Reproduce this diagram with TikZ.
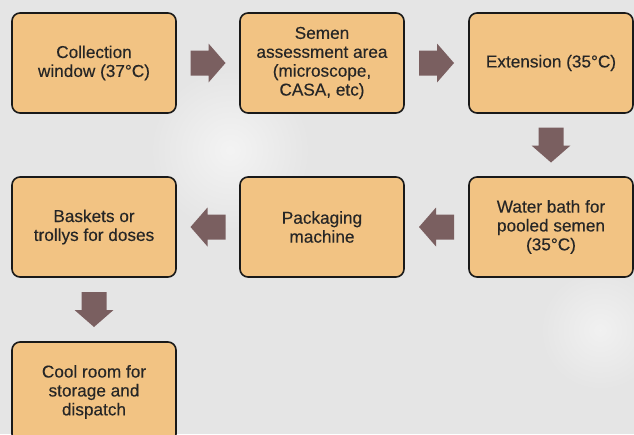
\documentclass[tikz,border=0pt]{standalone}
\usepackage{fontspec}
\setmainfont{Liberation Sans}
\newfontfamily\boxfont[FakeBold=0.3]{Liberation Sans}
\usetikzlibrary{calc}
\definecolor{bgc}{HTML}{E5E5E5}
\definecolor{boxc}{HTML}{F2C383}
\definecolor{arrc}{HTML}{7A5F60}
\definecolor{txtc}{HTML}{262626}
\tikzset{
  stage/.style={draw=black!90, line width=1.6pt, fill=boxc, rounded corners=8pt,
    minimum width=164pt, minimum height=100pt, inner sep=2pt, align=center,
    text=txtc, font=\boxfont\fontsize{17.2}{18.9}\selectfont},
  pics/blockarrow/.style={code={
    \fill[arrc] (-17.5pt,-12.5pt) -- (0.5pt,-12.5pt) -- (0.5pt,-19.5pt) -- (17.5pt,0pt)
      -- (0.5pt,19.5pt) -- (0.5pt,12.5pt) -- (-17.5pt,12.5pt) -- cycle;}}
}
\begin{document}
\begin{tikzpicture}[x=1pt,y=1pt]
\useasboundingbox (0,0) rectangle (634,-434);
\fill[bgc] (0,0) rectangle (634,-434);
\shade[inner color=white!55!bgc, outer color=bgc] (230,-150) circle (80);
\shade[inner color=white!45!bgc, outer color=bgc] (600,-330) circle (60);
\node[stage] (a) at (94,-63) {Collection\\window (37°C)};
\node[stage] (b) at (322,-63) {Semen\\assessment area\\(microscope,\\CASA, etc)};
\node[stage] (c) at (551,-63) {Extension (35°C)};
\node[stage] (d) at (551,-227) {Water bath for\\pooled semen\\(35°C)};
\node[stage] (e) at (322,-227) {Packaging\\machine};
\node[stage] (f) at (94,-227) {Baskets or\\trollys for doses};
\node[stage] (g) at (94,-392) {Cool room for\\storage and\\dispatch};
\pic at ($(a.east)!0.5!(b.west)$) {blockarrow};
\pic at ($(b.east)!0.5!(c.west)$) {blockarrow};
\pic[rotate=-90] at ($(c.south)!0.5!(d.north)$) {blockarrow};
\pic[rotate=180] at ($(d.west)!0.5!(e.east)$) {blockarrow};
\pic[rotate=180] at ($(e.west)!0.5!(f.east)$) {blockarrow};
\pic[rotate=-90] at ($(f.south)!0.5!(g.north)$) {blockarrow};
\end{tikzpicture}
\end{document}
